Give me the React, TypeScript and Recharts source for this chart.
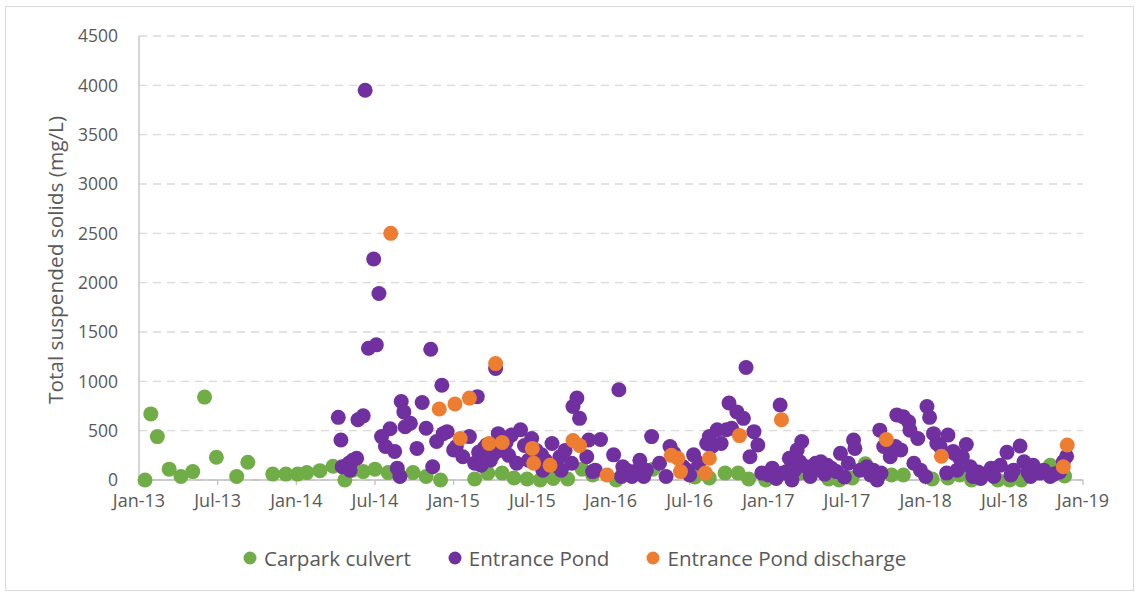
import React from 'react';
import { ScatterChart, Scatter, XAxis, YAxis, CartesianGrid, Legend, Label } from 'recharts';

// x = months since Jan-2013, y = TSS (mg/L)
const carparkCulvert: [number, number][] = [
  [0.46, 0], [0.9, 670], [1.4, 440], [2.3, 110], [3.2, 35], [4.1, 85], [5.0, 840], [5.9, 230],
  [7.45, 35], [8.3, 180], [10.2, 60], [11.2, 60], [12.1, 60], [12.8, 75], [13.8, 95], [14.8, 140],
  [15.7, 0], [16.3, 100], [17.1, 85], [18.0, 110], [19.0, 75], [19.8, 60], [20.9, 75], [21.9, 35],
  [23.0, 0], [25.6, 10], [26.6, 70], [27.7, 70], [28.6, 20], [29.6, 10], [30.6, 0], [31.6, 15],
  [32.7, 10], [33.8, 110], [34.6, 50], [36.4, 0], [39.2, 110], [42.4, 30], [43.5, 20], [44.7, 70],
  [45.7, 70], [46.5, 10], [47.8, 0], [50.4, 70], [52.6, 10], [53.4, 0], [54.4, 20], [55.4, 165],
  [57.4, 50], [58.3, 50], [60.5, 10], [61.7, 20], [62.6, 50], [63.5, 0], [65.5, 0], [66.4, 0],
  [67.3, 0], [69.5, 150], [70.6, 40],
];

const entrancePond: [number, number][] = [
  [15.2, 635], [15.4, 405], [15.5, 135], [16.0, 170], [16.1, 100], [16.3, 200], [16.6, 220], [16.7, 610],
  [17.1, 650], [17.25, 3950], [17.5, 1335], [17.9, 2240], [18.1, 1370], [18.3, 1890], [18.5, 440], [18.8, 340],
  [19.15, 520], [19.5, 290], [19.7, 120], [19.9, 35], [20.0, 795], [20.2, 690], [20.3, 540], [20.7, 575],
  [21.2, 320], [21.6, 785], [21.9, 525], [22.25, 1325], [22.4, 135], [22.7, 390], [23.1, 960], [23.2, 470],
  [23.5, 490], [24.0, 305], [24.2, 340], [24.7, 235], [25.2, 440], [25.6, 170], [25.8, 845], [25.9, 280],
  [26.1, 150], [26.3, 320], [26.5, 355], [26.8, 200], [27.0, 255], [27.2, 1130], [27.4, 470], [27.5, 300],
  [28.0, 380], [28.2, 250], [28.4, 455], [28.8, 170], [29.1, 510], [29.4, 350], [29.7, 200], [29.95, 420],
  [30.3, 300], [30.7, 255], [30.8, 100], [31.0, 200], [31.5, 370], [31.8, 150], [32.1, 235], [32.2, 100],
  [32.5, 300], [33.0, 170], [33.1, 745], [33.4, 830], [33.6, 625], [34.15, 235], [34.3, 405], [34.6, 85],
  [34.8, 100], [35.2, 410], [36.2, 255], [36.6, 915], [36.8, 35], [36.9, 135], [37.2, 100], [37.6, 35],
  [37.8, 85], [38.2, 200], [38.5, 35], [38.7, 100], [39.1, 440], [39.7, 170], [40.2, 35], [40.5, 340],
  [40.8, 270], [41.5, 135], [41.8, 100], [42.0, 50], [42.3, 255], [42.7, 170], [43.3, 370], [43.5, 440],
  [43.7, 340], [44.1, 510], [44.4, 370], [44.8, 510], [45.0, 780], [45.2, 525], [45.6, 690], [46.1, 625],
  [46.3, 1140], [46.6, 235], [46.9, 490], [47.2, 355], [47.5, 70], [48.0, 50], [48.3, 120], [48.6, 15],
  [48.9, 760], [49.1, 70], [49.4, 85], [49.6, 220], [49.8, 0], [50.0, 100], [50.2, 305], [50.4, 185],
  [50.55, 390], [50.9, 135], [51.2, 35], [51.4, 100], [51.6, 170], [52.0, 185], [52.3, 60], [52.5, 150],
  [52.8, 120], [53.2, 85], [53.5, 270], [53.8, 30], [54.1, 170], [54.5, 405], [54.6, 320], [55.0, 100],
  [55.5, 135], [55.8, 50], [56.0, 100], [56.3, 0], [56.5, 505], [56.6, 70], [56.8, 340], [57.3, 235],
  [57.4, 305], [57.7, 340], [57.8, 660], [58.1, 305], [58.3, 640], [58.7, 590], [58.8, 505], [59.1, 170],
  [59.4, 420], [59.6, 100], [60.0, 35], [60.1, 745], [60.3, 635], [60.6, 470], [60.85, 370], [61.1, 340],
  [61.6, 70], [61.7, 455], [62.1, 290], [62.2, 270], [62.4, 100], [62.6, 220], [62.8, 235], [63.1, 360],
  [63.4, 135], [63.6, 35], [64.0, 80], [64.2, 15], [64.7, 70], [65.0, 120], [65.2, 35], [65.7, 150],
  [66.2, 280], [66.5, 50], [66.7, 100], [67.2, 345], [67.5, 185], [67.8, 80], [68.0, 35], [68.2, 150],
  [68.7, 70], [69.0, 100], [69.5, 35], [69.8, 60], [70.2, 80], [70.5, 185], [70.75, 240],
];

const entrancePondDischarge: [number, number][] = [
  [19.2, 2500], [22.9, 720], [24.1, 770], [24.5, 420], [25.2, 830], [26.7, 370], [27.2, 1180], [27.7, 380],
  [30.0, 320], [30.1, 170], [31.35, 150], [33.1, 400], [33.6, 350], [35.7, 50], [40.6, 250], [41.1, 220],
  [41.3, 85], [43.2, 70], [43.5, 220], [45.8, 450], [49.0, 610], [57.0, 410], [61.2, 240], [70.5, 135],
  [70.8, 355],
];

const xTicks = [0, 6, 12, 18, 24, 30, 36, 42, 48, 54, 60, 66, 72];
const xTickLabels = ['Jan-13', 'Jul-13', 'Jan-14', 'Jul-14', 'Jan-15', 'Jul-15', 'Jan-16', 'Jul-16', 'Jan-17', 'Jul-17', 'Jan-18', 'Jul-18', 'Jan-19'];
const yTicks = [0, 500, 1000, 1500, 2000, 2500, 3000, 3500, 4000, 4500];

const seriesNames = ['Carpark culvert', 'Entrance Pond', 'Entrance Pond discharge'];
const seriesColors = ['#70AD47', '#7030A0', '#ED7D31'];

const toPoints = (arr: [number, number][]) => arr.map(([m, v]) => ({ m, v }));

const FONT = '"Open Sans", sans-serif';

const makeDot = (color: string) => (props: any) => (
  <circle cx={props.cx} cy={props.cy} r={7.5} fill={color} />
);

const renderLegend = (props: any) => {
  const payload = props.payload || [];
  return (
    <div style={{ display: 'flex', alignItems: 'center', paddingLeft: 243, fontFamily: FONT, fontSize: 20.6, color: '#595959', height: 28 }}>
      {payload.map((p: any, i: number) => (
        <div key={i} style={{ display: 'flex', alignItems: 'center', marginRight: 37 }}>
          <svg width={14} height={14} style={{ marginRight: 7 }}>
            <circle cx={7} cy={7} r={6.5} fill={p.color} />
          </svg>
          <span style={{ whiteSpace: 'nowrap' }}>{p.value}</span>
        </div>
      ))}
    </div>
  );
};

const YTitle = (props: any) => {
  const x = 55;
  const y = 260;
  return (
    <text x={x} y={y} transform={`rotate(-90 ${x} ${y})`} textAnchor="middle" dominantBaseline="central"
      fontFamily={FONT} fontSize={20.8} fill="#595959">
      Total suspended solids (mg/L)
    </text>
  );
};

export default function App() {
  const data = [carparkCulvert, entrancePond, entrancePondDischarge].map(toPoints);
  return (
    <div style={{ position: 'absolute', left: 0, top: 0, width: 1140, height: 596, background: '#fff' }}>
      <div style={{ position: 'absolute', left: 5, top: 6, width: 1129, height: 585, border: '1px solid #d9d9d9', boxSizing: 'border-box' }} />
      <div style={{ position: 'absolute', left: 0, top: 0 }}>
        <ScatterChart width={1140} height={596} margin={{ top: 36, right: 57, bottom: 86, left: 0 }}>
          <CartesianGrid vertical={false} stroke="#d9d9d9" strokeDasharray="8 6" strokeWidth={1.3} />
          <XAxis
            type="number"
            dataKey="m"
            domain={[0, 72]}
            ticks={xTicks}
            interval={0}
            tickFormatter={(m: number) => xTickLabels[xTicks.indexOf(m)] ?? ''}
            axisLine={{ stroke: '#bfbfbf', strokeWidth: 1.3 }}
            tickLine={{ stroke: '#bfbfbf', strokeWidth: 1.3 }}
            tickSize={5}
            tickMargin={9}
            height={30}
            tick={{ fill: '#595959', fontSize: 18, fontFamily: FONT }}
          />
          <YAxis
            type="number"
            dataKey="v"
            domain={[0, 4500]}
            ticks={yTicks}
            interval={0}
            width={139}
            axisLine={{ stroke: '#bfbfbf', strokeWidth: 1.3 }}
            tickLine={false}
            tickSize={6}
            tickMargin={15}
            tick={{ fill: '#595959', fontSize: 17.5, fontFamily: FONT }}
          >
            <Label content={<YTitle />} />
          </YAxis>
          <Legend
            layout="horizontal"
            verticalAlign="middle"
            align="center"
            content={renderLegend}
            wrapperStyle={{ position: 'absolute', left: 0, top: 544, width: 1140, height: 28 }}
          />
          {data.map((d, i) => (
            <Scatter
              key={seriesNames[i]}
              name={seriesNames[i]}
              data={d}
              fill={seriesColors[i]}
              shape={makeDot(seriesColors[i])}
              isAnimationActive={false}
            />
          ))}
        </ScatterChart>
      </div>
    </div>
  );
}
